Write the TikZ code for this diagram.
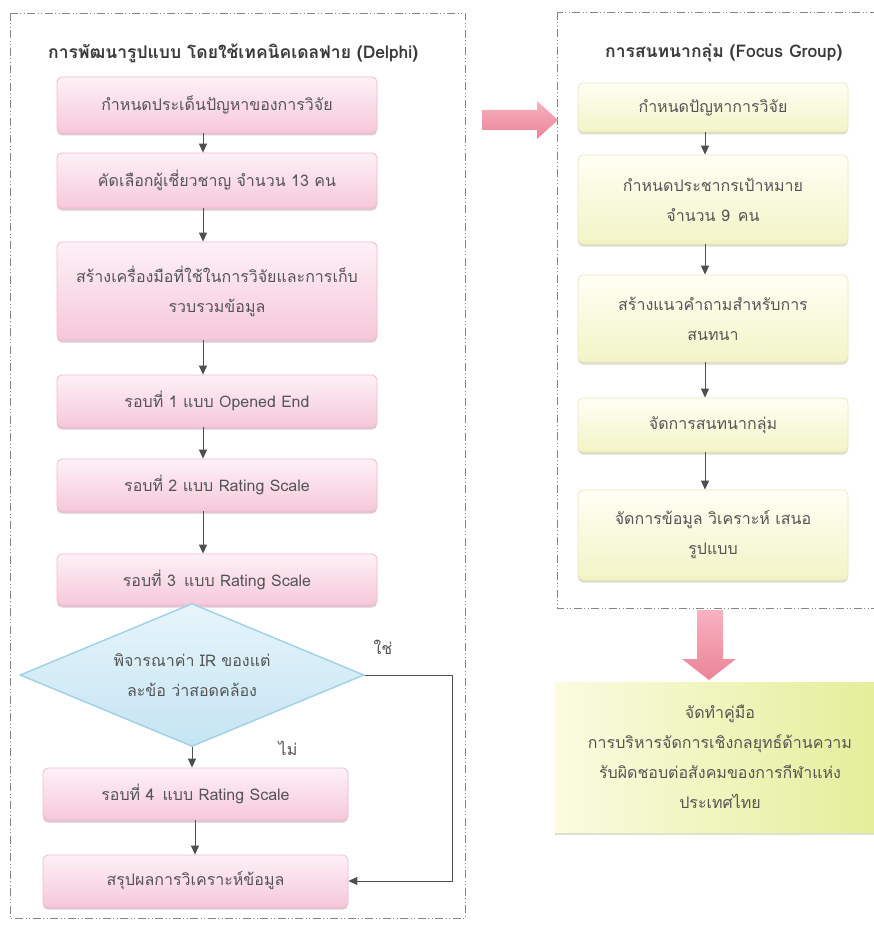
\documentclass[tikz,border=0pt]{standalone}
\usepackage{fontspec}
\newfontfamily\thaifont[Script=Thai]{Loma}
\usetikzlibrary{arrows.meta,shapes.geometric,shadows}

\definecolor{frameline}{HTML}{7F8A82}
\definecolor{txt}{HTML}{555555}
\definecolor{titletxt}{HTML}{3A3A3A}
\definecolor{pinktop}{HTML}{FDF1F6}
\definecolor{pinkbot}{HTML}{F6C8D9}
\definecolor{pinkedge}{HTML}{F1BCD0}
\definecolor{pinkshadow}{HTML}{C99AAC}
\definecolor{yeltop}{HTML}{FEFFF4}
\definecolor{yelbot}{HTML}{F2F4C6}
\definecolor{yeledge}{HTML}{E6EBC0}
\definecolor{yelshadow}{HTML}{B9BE92}
\definecolor{bluetop}{HTML}{E6F5FB}
\definecolor{bluebot}{HTML}{C5E4F2}
\definecolor{blueedge}{HTML}{9FD0E8}
\definecolor{arrowtop}{HTML}{F6B2C0}
\definecolor{arrowbot}{HTML}{EC8398}
\definecolor{connector}{HTML}{4F4F4F}
\definecolor{goaltop}{HTML}{FAFBE0}
\definecolor{goalright}{HTML}{E3EE98}

\begin{document}
\begin{tikzpicture}[x=1pt,y=-1pt,
  boxtext/.style={text=txt, align=center, inner sep=0pt,
    font=\thaifont\fontsize{16pt}{30pt}\selectfont},
  pinkbox/.style={boxtext, rectangle, rounded corners=5pt,
    draw=pinkedge, line width=0.8pt, top color=pinktop, bottom color=pinkbot,
    drop shadow={shadow xshift=0pt, shadow yshift=-2.5pt, fill=pinkshadow, opacity=.55},
    minimum width=320pt},
  yelbox/.style={boxtext, rectangle, rounded corners=5pt,
    draw=yeledge, line width=0.8pt, top color=yeltop, bottom color=yelbot,
    drop shadow={shadow xshift=0pt, shadow yshift=-2.5pt, fill=yelshadow, opacity=.5},
    minimum width=270pt},
  decision/.style={boxtext, diamond, aspect=2.4, draw=blueedge, line width=1.4pt,
    top color=bluetop, bottom color=bluebot,
    minimum width=344pt, minimum height=143pt},
  goalbox/.style={boxtext, rectangle, left color=goaltop, right color=goalright,
    drop shadow={shadow xshift=0pt, shadow yshift=-2.5pt, fill=yelshadow, opacity=.45},
    minimum width=330pt, minimum height=150pt},
  paneltitle/.style={anchor=west, text=titletxt, inner sep=0pt,
    font=\thaifont\bfseries\fontsize{17.5pt}{21pt}\selectfont},
  answer/.style={text=txt, inner sep=0pt, font=\thaifont\fontsize{16pt}{20pt}\selectfont},
  panel/.style={draw=frameline, line width=0.9pt,
    dash pattern=on 8pt off 2.5pt on 1pt off 2.5pt on 1pt off 2.5pt},
  conn/.style={draw=connector, line width=1pt, -{Triangle[length=9pt,width=8pt]}},
  bigarrow/.style={draw=none, top color=arrowtop, bottom color=arrowbot}
]
\path[use as bounding box, clip] (0,0) rectangle (874,928);
\fill[white] (0,0) rectangle (874,928);

% dash-dot-dot frames of the two panels
\draw[panel] (10,13) rectangle (465,918);
\draw[panel] (557,12) rectangle (900,608);

% panel titles
\node[paneltitle] (tleft) at (48,53) {การพัฒนารูปแบบ โดยใช้เทคนิคเดลฟาย (Delphi)};
\node[paneltitle] (tright) at (605,53) {การสนทนากลุ่ม (Focus Group)};

% Delphi steps
\node[pinkbox, minimum height=56pt] (b1) at (217,105) {กำหนดประเด็นปัญหาของการวิจัย};
\node[pinkbox, minimum height=55pt] (b2) at (217,180.5) {คัดเลือกผู้เชี่ยวชาญ จำนวน 13 คน};
\node[pinkbox, minimum height=98pt] (b3) at (217,291) {สร้างเครื่องมือที่ใช้ในการวิจัยและการเก็บ\\รวบรวมข้อมูล};
\node[pinkbox, minimum height=52pt] (b4) at (217,401) {รอบที่ 1 แบบ Opened End};
\node[pinkbox, minimum height=52pt] (b5) at (217,485) {รอบที่ 2 แบบ Rating Scale};
\node[pinkbox, minimum height=51pt] (b6) at (217,579.5) {รอบที่ 3\enspace แบบ Rating Scale};
\node[decision] (dia) at (192,675) {พิจารณาค่า IR ของแต่\\ละข้อ ว่าสอดคล้อง};
\node[pinkbox, minimum width=305pt, minimum height=52pt] (b7) at (195.5,794) {รอบที่ 4\enspace แบบ Rating Scale};
\node[pinkbox, minimum width=305pt, minimum height=52pt] (b8) at (195.5,881) {สรุปผลการวิเคราะห์ข้อมูล};

\node[answer] (yes) at (383,647) {ใช่};
\node[answer] (no) at (288,748) {ไม่};

% focus group steps
\node[yelbox, minimum height=49pt] (r1) at (713,107.5) {กำหนดปัญหาการวิจัย};
\node[yelbox, minimum height=89pt] (r2) at (713,199.5) {กำหนดประชากรเป้าหมาย\\จำนวน 9\enspace คน};
\node[yelbox, minimum height=87pt] (r3) at (713,318.5) {สร้างแนวคำถามสำหรับการ\\สนทนา};
\node[yelbox, minimum height=54pt] (r4) at (713,425) {จัดการสนทนากลุ่ม};
\node[yelbox, minimum height=90pt] (r5) at (713,535) {จัดการข้อมูล วิเคราะห์ เสนอ\\รูปแบบ};

% outcome
\node[goalbox] (goal) at (720,757) {จัดทำคู่มือ\\การบริหารจัดการเชิงกลยุทธ์ด้านความ\\รับผิดชอบต่อสังคมของการกีฬาแห่ง\\ประเทศไทย};

% connectors, left panel
\foreach \a/\b in {b1/b2, b2/b3, b3/b4, b4/b5, b5/b6}
  \draw[conn] ([xshift=-14pt]\a.south) -- ([xshift=-14pt]\b.north);
\draw[conn] (dia.south) -- (dia.south |- b7.north);
\draw[conn] ([xshift=-0.5pt]b7.south) -- ([xshift=-0.5pt]b8.north);
\draw[conn] (dia.east) -- ++(88,0) |- (b8.east);

% connectors, right panel
\foreach \a/\b in {r1/r2, r2/r3, r3/r4, r4/r5}
  \draw[conn] ([xshift=-8pt]\a.south) -- ([xshift=-8pt]\b.north);

% block arrows between the stages
\path[bigarrow] (482,110) -- (537,110) -- (537,101) -- (558,120)
  -- (537,139) -- (537,130) -- (482,130) -- cycle;
\path[bigarrow] (697,610) -- (723,610) -- (723,659) -- (736,659)
  -- (709,680) -- (682,659) -- (697,659) -- cycle;
\end{tikzpicture}
\end{document}
